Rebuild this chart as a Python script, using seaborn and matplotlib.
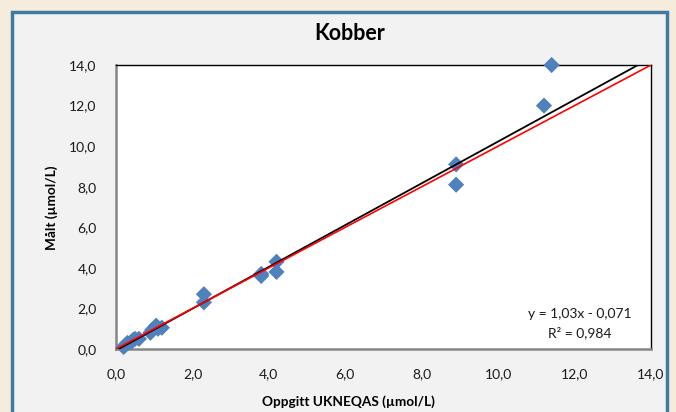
import matplotlib
matplotlib.use("Agg")
import matplotlib.pyplot as plt
import seaborn as sns
import pandas as pd
import numpy as np
from matplotlib.patches import Rectangle
from matplotlib.ticker import FuncFormatter, MultipleLocator

# Data
oppgitt = [0.2, 0.25, 0.3, 0.4, 0.45, 0.5, 0.6, 0.9, 0.95, 1.05, 1.1, 1.2,
           2.3, 2.3, 3.8, 3.8, 4.2, 4.2, 8.9, 8.9, 11.2, 11.4]
malt = [0.1, 0.2, 0.3, 0.35, 0.45, 0.5, 0.5, 0.8, 0.95, 1.15, 1.0, 1.05,
        2.7, 2.3, 3.6, 3.7, 4.3, 3.8, 9.1, 8.1, 12.0, 14.0]
slope = 1.03
intercept = -0.071
r2 = 0.984
axis_max = 14.0

sns.set_theme(style="white")
plt.rcParams['font.family'] = ['Lato', 'DejaVu Sans']

fig = plt.figure(figsize=(6.76, 4.12), dpi=100)
fig.patch.set_facecolor("#f6ecdc")
bg = Rectangle((11.5/676, -0.05), (667-11.5)/676, (412-11.5)/412 + 0.05,
               transform=fig.transFigure, facecolor="#f2f2f2",
               edgecolor="#3f7aa1", linewidth=2.5, zorder=-10)
fig.patches.append(bg)

ax = fig.add_axes([116/676, 1-349/412, (651-116)/676, (349-65)/412])
ax.set_zorder(5)
ax.set_facecolor("white")

df = pd.DataFrame({"x": oppgitt, "y": malt})
sns.scatterplot(data=df, x="x", y="y", ax=ax, marker="D", s=68, color="#4f81bd",
                edgecolor="none", zorder=3, clip_on=False)

# regression line (black) and identity line (red)
x_end = (axis_max - intercept) / slope
reg = pd.DataFrame({"x": [0.0, x_end], "y": [intercept, slope * x_end + intercept]})
sns.lineplot(data=reg, x="x", y="y", ax=ax, color="black", linewidth=1.3, zorder=4)
ident = pd.DataFrame({"x": [0.0, axis_max], "y": [0.0, axis_max]})
sns.lineplot(data=ident, x="x", y="y", ax=ax, color="#ff0000", linewidth=1.2, zorder=5)

ax.set_xlim(0, axis_max)
ax.set_ylim(0, axis_max)
ax.xaxis.set_major_locator(MultipleLocator(2))
ax.yaxis.set_major_locator(MultipleLocator(2))
fmt = FuncFormatter(lambda v, p: f"{v:.1f}".replace(".", ","))
ax.xaxis.set_major_formatter(fmt)
ax.yaxis.set_major_formatter(fmt)
ax.tick_params(axis="both", length=0, labelsize=10, colors="#1a1a1a")
ax.tick_params(axis="x", pad=14)
ax.tick_params(axis="y", pad=14)
ax.set_xlabel("")
ax.set_ylabel("")

for s in ["left", "bottom"]:
    ax.spines[s].set_color("#868686")
    ax.spines[s].set_linewidth(1.8)
for s in ["top", "right"]:
    ax.spines[s].set_color("black")
    ax.spines[s].set_linewidth(1.0)

fig.text(350/676, 1-33/412, "Kobber", ha="center", va="center",
         fontsize=15.5, fontweight="bold", color="black", zorder=10)
fig.text(348/676, 1-402/412, "Oppgitt UKNEQAS (µmol/L)", ha="center", va="center",
         fontsize=9.8, fontweight="bold", color="black", zorder=10)
fig.text(52/676, 1-208/412, "Målt (µmol/L)", ha="center", va="center",
         rotation=90, fontsize=9.8, fontweight="bold", color="black", zorder=10)

ax.text(580/676, 1-314/412, f"y = {slope:.2f}x - {abs(intercept):.3f}".replace(".", ","),
        transform=fig.transFigure, ha="center", va="center", fontsize=10, color="#1a1a1a")
ax.text(580/676, 1-333/412, f"R² = {r2:.3f}".replace(".", ","),
        transform=fig.transFigure, ha="center", va="center", fontsize=10, color="#1a1a1a")

fig.savefig("out.png", dpi=100)
